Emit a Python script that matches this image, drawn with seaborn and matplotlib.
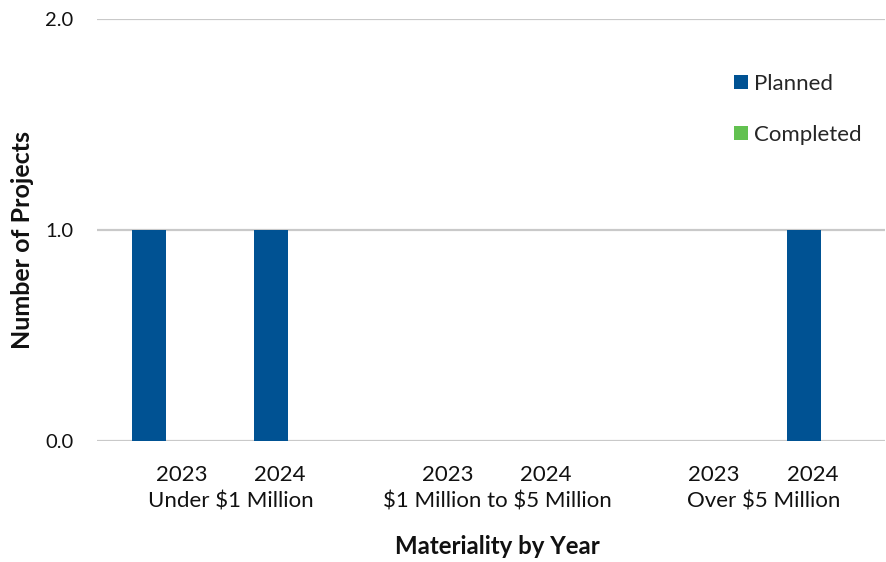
import matplotlib
matplotlib.use("Agg")
import matplotlib.pyplot as plt
from matplotlib.patches import Patch
import matplotlib.transforms as mtransforms
import seaborn as sns
import pandas as pd

# ---- data ----
groups = ["Under $1 Million", "$1 Million to $5 Million", "Over $5 Million"]
years = ["2023", "2024"]
series = ["Planned", "Completed"]
planned = [1, 1, 0, 0, 0, 1]
completed = [0, 0, 0, 0, 0, 0]
y_ticks = [0.0, 1.0, 2.0]
y_tick_labels = ["0.0", "1.0", "2.0"]

# ---- style ----
sns.set_theme(style="white")
plt.rcParams["font.family"] = ["Lato", "DejaVu Sans"]
plt.rcParams["text.parse_math"] = False   # dollar signs are literal
colors = {"Planned": "#005293", "Completed": "#62C150"}
GRID = "#C9C9C9"
TEXT = "#111111"
GROUP_GAP = 0.17          # extra space between materiality groups
BAR_SPAN = 0.554          # combined width of the two bars in one slot

# slot positions along the x axis: one slot per (group, year)
slot_pos = []
for gi in range(len(groups)):
    for yi in range(len(years)):
        slot_pos.append(gi * (len(years) + GROUP_GAP) + yi)

rows = []
for i, pos in enumerate(slot_pos):
    rows.append({"pos": pos, "status": "Planned", "count": planned[i]})
    rows.append({"pos": pos, "status": "Completed", "count": completed[i]})
df = pd.DataFrame(rows)

fig = plt.figure(figsize=(8.86, 5.62), dpi=100)
ax = fig.add_axes([97 / 886, 1 - 441 / 562, (885 - 97) / 886, (441 - 18.7) / 562])

sns.barplot(data=df, x="pos", y="count", hue="status", hue_order=series,
            palette=colors, saturation=1, native_scale=True, width=BAR_SPAN,
            linewidth=0, legend=False, ax=ax, errorbar=None)

ax.set_xlim(-0.56, 5.862)
ax.set_ylim(0, 2.0)
ax.set_yticks(y_ticks)
ax.set_yticklabels(y_tick_labels, fontsize=14.5, color=TEXT)
ax.tick_params(axis="y", length=0, pad=17)
ax.grid(axis="y", color=GRID, linewidth=1.6, zorder=0)
ax.set_axisbelow(True)
for s in ax.spines.values():
    s.set_visible(False)

# year labels and group labels beneath the axis
year_pos, year_lab = [], []
for gi, g in enumerate(groups):
    center = gi * (len(years) + GROUP_GAP) + 0.5 + 0.03
    for yi, yr in enumerate(years):
        year_pos.append(center + (yi - 0.5) * 0.8)
        year_lab.append(yr)
ax.set_xticks(year_pos)
ax.set_xticklabels(year_lab, fontsize=16, color=TEXT)
ax.tick_params(axis="x", length=0, pad=17)
ax.set_xlabel("")
ax.set_ylabel("")

trans = mtransforms.blended_transform_factory(ax.transData, fig.transFigure)
for gi, g in enumerate(groups):
    center = gi * (len(years) + GROUP_GAP) + 0.5 + 0.03
    ax.text(center, 1 - 502 / 562, g, transform=trans, ha="center",
            va="center", fontsize=16, color=TEXT)

fig.text(497.5 / 886, 1 - 547 / 562, "Materiality by Year", ha="center",
         va="center", fontsize=17.3, fontweight="bold", color=TEXT)
fig.text(23 / 886, 1 - 240 / 562, "Number of Projects", ha="center",
         va="center", rotation=90, fontsize=18, fontweight="bold",
         color=TEXT)

handles = [Patch(facecolor=colors[s], edgecolor="none", label=s) for s in series]
ax.legend(handles=handles, loc="upper left", bbox_to_anchor=(734 / 886, 1 - 74 / 562),
          bbox_transform=fig.transFigure, frameon=False, fontsize=16,
          handlelength=0.62, handleheight=0.62, handletextpad=0.3,
          labelspacing=1.4, borderpad=0, borderaxespad=0)

fig.savefig("out.png", dpi=100)
